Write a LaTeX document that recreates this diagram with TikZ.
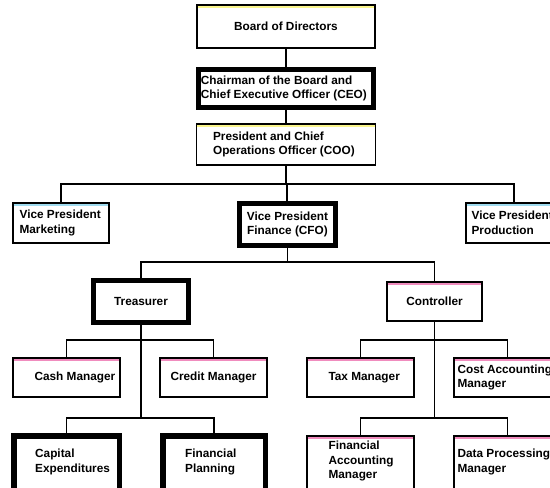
\documentclass[tikz,border=0pt]{standalone}
\usepackage{fontspec}
\setmainfont{Liberation Sans}
\usetikzlibrary{calc}
\definecolor{stripyellow}{RGB}{250,245,140}
\definecolor{stripblue}{RGB}{160,220,240}
\definecolor{strippink}{RGB}{240,140,190}

\tikzset{
  box/.style 2 args={draw, line width=1.2pt, minimum width=#1, minimum height=#2, inner sep=0pt, align=center},
  heavybox/.style 2 args={draw, line width=5.5pt, minimum width=#1, minimum height=#2, inner sep=0pt, align=center},
  txt/.style={anchor=west, align=left, inner sep=0pt},
  wire/.style={draw, line width=1.2pt}
}

\begin{document}
\begin{tikzpicture}[x=1pt, y=-1pt, every node/.style={font=\bfseries\fontsize{11.8}{14.5}\selectfont}]
\useasboundingbox (0,0) rectangle (550,488);
\clip (0,0) rectangle (550,488);
% top of the chart
\node[box={178pt}{43pt}] (board) at (286,26.5) {Board of Directors};
\node[heavybox={175pt}{38pt}] (ceo) at (286,88.5) {};
\node[txt] (ceo-t) at ([xshift=5pt]ceo.west) {Chairman of the Board and\\Chief Executive Officer (CEO)};
\node[box={179pt}{41pt}] (coo) at (286,144.5) {};
\node[txt] (coo-t) at ([xshift=17pt]coo.west) {President and Chief\\Operations Officer (COO)};
% vice presidents
\node[box={96pt}{40pt}] (vpm) at (61,223) {};
\node[txt] (vpm-t) at ([xshift=7pt]vpm.west) {Vice President\\Marketing};
\node[heavybox={96pt}{42pt}] (vpf) at (287.5,224.5) {Vice President\\Finance (CFO)};
\node[box={96pt}{40pt}] (vpp) at (514,223) {};
\node[txt] (vpp-t) at ([xshift=6pt]vpp.west) {Vice President\\Production};
% finance
\node[heavybox={95pt}{42pt}] (treas) at (141,301.5) {Treasurer};
\node[box={95pt}{39pt}] (ctrl) at (434.5,301.5) {Controller};
\node[box={107pt}{39pt}] (cash) at (66.5,377.5) {};
\node[txt] (cash-t) at ([xshift=22pt]cash.west) {Cash Manager};
\node[box={107pt}{39pt}] (credit) at (213.5,377.5) {Credit Manager};
\node[box={107pt}{39pt}] (tax) at (360.5,377.5) {};
\node[txt] (tax-t) at ([xshift=22pt]tax.west) {Tax Manager};
\node[box={107pt}{39pt}] (cost) at (507.5,377.5) {};
\node[txt] (cost-t) at ([xshift=4pt]cost.west) {Cost Accounting\\Manager};
\node[heavybox={105.5pt}{56.5pt}] (capex) at (66.5,464) {};
\node[txt] (capex-t) at ([xshift=24pt,yshift=2pt]capex.west) {Capital\\Expenditures};
\node[heavybox={102.5pt}{56.5pt}] (finplan) at (214,464) {};
\node[txt] (finplan-t) at ([xshift=25pt,yshift=2pt]finplan.west) {Financial\\Planning};
\node[box={107pt}{58pt}] (finacc) at (360.5,465) {};
\node[txt] (finacc-t) at ([xshift=22pt,yshift=4pt]finacc.west) {Financial\\Accounting\\Manager};
\node[box={107pt}{58pt}] (datap) at (507.5,465) {};
\node[txt] (datap-t) at ([xshift=4pt,yshift=3pt]datap.west) {Data Processing\\Manager};
% coloured strips
\foreach \n/\c in {board/stripyellow, coo/stripyellow, vpm/stripblue, vpp/stripblue,
  ctrl/strippink, cash/strippink, credit/strippink, tax/strippink, cost/strippink,
  finacc/strippink, datap/strippink}
  \draw[\c, line width=2pt] ([xshift=1.2pt,yshift=-2.2pt]\n.north west) -- ([xshift=-1.2pt,yshift=-2.2pt]\n.north east);
% lines
\coordinate (bus1) at (287,184);
\coordinate (bus2) at (287,262);
\coordinate (bus3) at (140,340);
\coordinate (bus4) at (140,418);
\coordinate (bus5) at (434,340);
\coordinate (bus6) at (434,418);
\draw[wire] (board) -- (ceo);
\draw[wire] (ceo) -- (coo);
\draw[wire] (coo) -- (coo |- bus1);
\draw[wire] (vpm.north) |- (bus1) -| (vpp.north);
\draw[wire] (bus1) -- (bus1 |- vpf.north);
\draw[wire] (vpf) -- (vpf |- bus2);
\draw[wire] (treas.north) |- (bus2) -| (ctrl.north);
\draw[wire] (treas) -- (treas.south |- bus4);
\draw[wire] (cash.north) |- (bus3) -| (credit.north);
\draw[wire] (capex.north) |- (bus4) -| (finplan.north);
\draw[wire] (ctrl) -- (ctrl.south |- bus6);
\draw[wire] (tax.north) |- (bus5) -| (cost.north);
\draw[wire] (finacc.north) |- (bus6) -| (datap.north);
\end{tikzpicture}
\end{document}
